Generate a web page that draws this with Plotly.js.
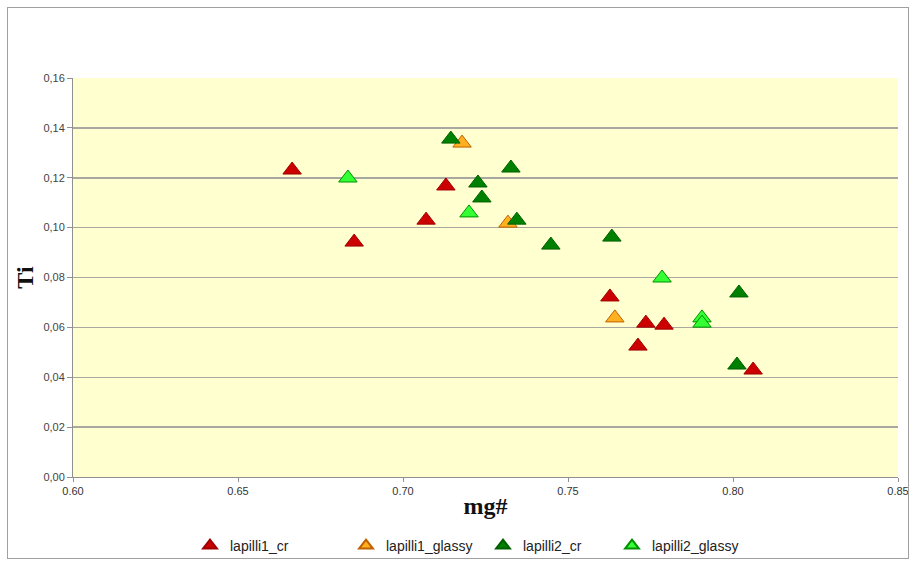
<!DOCTYPE html>
<html>
<head>
<meta charset="utf-8">
<script src="https://cdn.plot.ly/plotly-3.0.1.min.js"></script>
<style>
html,body{margin:0;padding:0;background:#fff;}
#chart{position:absolute;left:0;top:0;width:909px;height:562px;}
#frame{position:absolute;left:7px;top:7px;width:900px;height:550px;border:1px solid #a0a0a0;pointer-events:none;}
</style>
</head>
<body>
<div id="chart"></div>
<div id="frame"></div>
<script>
// lapilli1_cr
const l1crX = [0.6664, 0.6852, 0.7070, 0.7130, 0.7627, 0.7712, 0.7736, 0.7791, 0.8061];
const l1crY = [0.1231, 0.0942, 0.1030, 0.1167, 0.0722, 0.0525, 0.0617, 0.0609, 0.0429];
// lapilli1_glassy
const l1glX = [0.7179, 0.7318, 0.7642];
const l1glY = [0.1339, 0.1018, 0.0638];
// lapilli2_cr
const l2crX = [0.7145, 0.7227, 0.7239, 0.7327, 0.7345, 0.7448, 0.7633, 0.8018, 0.8012];
const l2crY = [0.1355, 0.1179, 0.1119, 0.1239, 0.1030, 0.0930, 0.0962, 0.0738, 0.0449];
// lapilli2_glassy
const l2glX = [0.6833, 0.7200, 0.7785, 0.7906, 0.7906];
const l2glY = [0.1199, 0.1059, 0.0798, 0.0638, 0.0617];

const seriesNames = ["lapilli1_cr", "lapilli1_glassy", "lapilli2_cr", "lapilli2_glassy"];
const xTickVals = [0.60, 0.65, 0.70, 0.75, 0.80, 0.85];
const xTickText = ["0.60", "0.65", "0.70", "0.75", "0.80", "0.85"];
const yTickVals = [0, 0.02, 0.04, 0.06, 0.08, 0.10, 0.12, 0.14, 0.16];
const yTickText = ["0,00", "0,02", "0,04", "0,06", "0,08", "0,10", "0,12", "0,14", "0,16"];

function tr(x, y, name, fill, line, leg) {
  return {
    x: x, y: y, name: name, type: 'scatter', mode: 'markers', legend: leg,
    marker: {symbol: 'triangle-up', size: 16, color: fill, line: {color: line, width: 1}},
    cliponaxis: false
  };
}

const data = [
  tr(l1crX, l1crY, seriesNames[0], '#cc0000', '#a00000', 'legend'),
  tr(l1glX, l1glY, seriesNames[1], '#ffb020', '#c06000', 'legend2'),
  tr(l2crX, l2crY, seriesNames[2], '#008000', '#006000', 'legend3'),
  tr(l2glX, l2glY, seriesNames[3], '#33ff33', '#009000', 'legend4')
];

function leg(xp) {
  return {
    orientation: 'h', x: xp, xanchor: 'left', xref: 'container',
    y: 0.0285, yanchor: 'middle', yref: 'container',
    itemsizing: 'constant', bgcolor: 'rgba(0,0,0,0)',
    font: {family: 'Liberation Sans, Arial, sans-serif', size: 14, color: '#222'}
  };
}

const layout = {
  width: 909, height: 562,
  margin: {l: 73, r: 11, t: 78, b: 85},
  paper_bgcolor: '#ffffff',
  plot_bgcolor: '#ffffd0',
  showlegend: true,
  legend: leg(190 / 909),
  legend2: leg(346 / 909),
  legend3: leg(483 / 909),
  legend4: leg(612 / 909),
  xaxis: {
    range: [0.60, 0.85], tickvals: xTickVals, ticktext: xTickText,
    showgrid: false, zeroline: false,
    showline: true, linecolor: '#909090', linewidth: 1,
    ticks: 'outside', ticklen: 4, tickcolor: '#909090',
    tickfont: {family: 'Liberation Sans, Arial, sans-serif', size: 11, color: '#333'},
    title: {text: 'mg#', standoff: 0, font: {family: 'Liberation Serif, Times New Roman, serif', size: 24, color: '#111', weight: 'bold'}}
  },
  yaxis: {
    range: [0, 0.16], tickvals: yTickVals, ticktext: yTickText,
    showgrid: true, gridcolor: '#a8a8a0', gridwidth: 1.5, zeroline: false,
    showline: true, linecolor: '#909090', linewidth: 1,
    ticks: 'outside', ticklen: 5, tickcolor: '#909090',
    tickfont: {family: 'Liberation Sans, Arial, sans-serif', size: 11, color: '#444'},
    title: {text: 'Ti', standoff: 2, font: {family: 'Liberation Serif, Times New Roman, serif', size: 24, color: '#111', weight: 'bold'}}
  }
};

Plotly.newPlot('chart', data, layout, {displayModeBar: false, staticPlot: true});
</script>
</body>
</html>
